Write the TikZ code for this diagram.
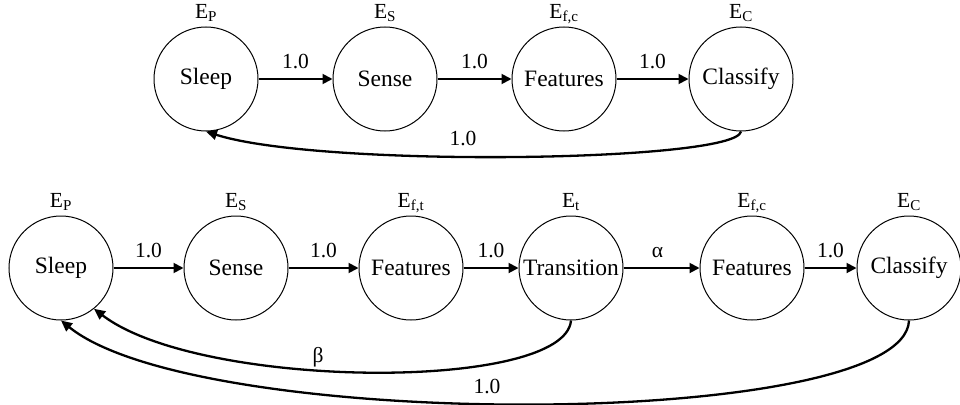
\documentclass[tikz,border=0pt]{standalone}
\usepackage{fontspec}
\setmainfont{Liberation Serif}
\usetikzlibrary{arrows.meta}
\begin{document}
\begin{tikzpicture}[x=1pt,y=-1pt,
  state/.style={draw, circle, line width=1pt, minimum size=104pt, inner sep=0pt,
    font=\fontsize{23.5}{27}\selectfont},
  energy/.style={anchor=base, font=\fontsize{21.5}{25}\selectfont, inner sep=0pt},
  prob/.style={anchor=base, font=\fontsize{21.5}{25}\selectfont, inner sep=0pt, yshift=11pt},
  flow/.style={line width=1.9pt, -{Triangle[length=10pt,width=10pt]}},
  back/.style={line width=2.3pt, -{Triangle[length=11pt,width=10pt]}}]
\useasboundingbox (0,0) rectangle (960,404);

% ---- upper chain: sleep, sense, features, classify ----
\node[state] (s1) at (206,79) {Sleep};
\node[state] (n1) at (385,79) {Sense};
\node[state] (f1) at (564,79) {Features};
\node[state] (c1) at (741,79) {Classify};

\node[energy] (es1) at ([yshift=8pt]s1.north) {E\textsubscript{P}};
\node[energy] (en1) at ([yshift=8pt]n1.north) {E\textsubscript{S}};
\node[energy] (ef1) at ([yshift=8pt]f1.north) {E\textsubscript{f,c}};
\node[energy] (ec1) at ([yshift=8pt]c1.north) {E\textsubscript{C}};

\draw[flow] (s1) -- node[prob] {1.0} (n1);
\draw[flow] (n1) -- node[prob] {1.0} (f1);
\draw[flow] (f1) -- node[prob] {1.0} (c1);

\draw[back] (c1.south) .. controls (736,162) and (320,168) .. (s1.south);
\node[energy] (r1) at (463,145) {1.0};

% ---- lower chain with transition detection ----
\node[state] (s2) at (61,268) {Sleep};
\node[state] (n2) at (236,268) {Sense};
\node[state] (ft) at (411,268) {Features};
\node[state] (t2) at (571,268) {Transition};
\node[state] (f2) at (752,268) {Features};
\node[state] (c2) at (909,268) {Classify};

\node[energy] (es2) at ([yshift=8pt]s2.north) {E\textsubscript{P}};
\node[energy] (en2) at ([yshift=8pt]n2.north) {E\textsubscript{S}};
\node[energy] (eft) at ([yshift=8pt]ft.north) {E\textsubscript{f,t}};
\node[energy] (et2) at ([yshift=8pt]t2.north) {E\textsubscript{t}};
\node[energy] (ef2) at ([yshift=8pt]f2.north) {E\textsubscript{f,c}};
\node[energy] (ec2) at ([yshift=8pt]c2.north) {E\textsubscript{C}};

\draw[flow] (s2) -- node[prob] {1.0} (n2);
\draw[flow] (n2) -- node[prob] {1.0} (ft);
\draw[flow] (ft) -- node[prob] {1.0} (t2);
\draw[flow] (t2) -- node[prob, xshift=-4pt] {α} (f2);
\draw[flow] (f2) -- node[prob] {1.0} (c2);

\draw[back] (t2.south) .. controls (565,392) and (200,390) .. (s2.-51);
\node[energy] (rb) at (318,362) {β};
\draw[back] (c2.south) .. controls (905,430) and (200,433) .. (s2.south);
\node[energy] (r2) at (487,393) {1.0};
\end{tikzpicture}
\end{document}
